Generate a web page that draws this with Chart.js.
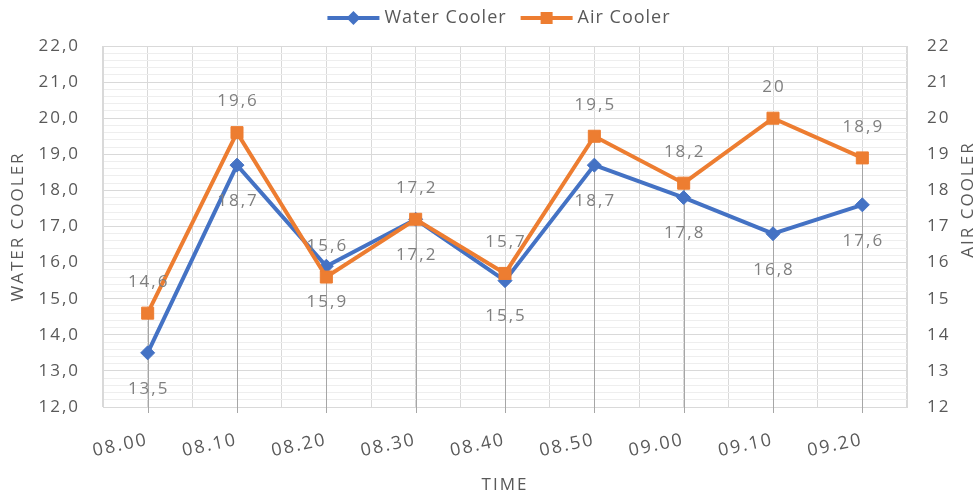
<!DOCTYPE html>
<html>
<head>
<meta charset="utf-8">
<script src="https://cdn.jsdelivr.net/npm/chart.js@4.4.1/dist/chart.umd.min.js"></script>
<style>
  html, body { margin: 0; padding: 0; background: #ffffff; }
  #wrap { width: 980px; height: 497px; }
</style>
</head>
<body>
<div id="wrap"><canvas id="chartjs-0" width="980" height="497"></canvas></div>
<script>
// data
var times = ["08.00", "08.10", "08.20", "08.30", "08.40", "08.50", "09.00", "09.10", "09.20"];
var waterCooler = [13.5, 18.7, 15.9, 17.2, 15.5, 18.7, 17.8, 16.8, 17.6];
var airCooler = [14.6, 19.6, 15.6, 17.2, 15.7, 19.5, 18.2, 20, 18.9];
var axisMin = 12;
var axisMax = 22;

var BLUE = "#4472C4";
var ORANGE = "#ED7D31";
var TEXT = "#595959";
var FONT = "'Open Sans', 'Liberation Sans', sans-serif";

function isWhole(v) {
    return Math.abs(v - Math.round(v)) < 1e-6;
}

// letter spaced text for the axes, like the picture
var spacing = {
    id: "spacing",
    beforeDraw: function(chart) { chart.ctx.letterSpacing = "2px"; },
    beforeDatasetsDraw: function(chart) { chart.ctx.letterSpacing = "0px"; }
};

// vertical lines from the highest point of each category down to the axis
var dropLines = {
    id: "dropLines",
    beforeDatasetsDraw: function(chart) {
        var ctx = chart.ctx;
        var x = chart.scales.x;
        var y = chart.scales.y;
        ctx.save();
        ctx.strokeStyle = "#a6a6a6";
        ctx.lineWidth = 1;
        for (var i = 0; i < times.length; i++) {
            var top = Math.max(waterCooler[i], airCooler[i]);
            var px = Math.round(x.getPixelForValue(i)) + 0.5;
            ctx.beginPath();
            ctx.moveTo(px, y.getPixelForValue(top));
            ctx.lineTo(px, chart.chartArea.bottom + 6);
            ctx.stroke();
        }
        ctx.restore();
    }
};

// value labels: air cooler above, water cooler below
var valueLabels = {
    id: "valueLabels",
    afterDatasetsDraw: function(chart) {
        var ctx = chart.ctx;
        ctx.save();
        ctx.font = "17px " + FONT;
        ctx.letterSpacing = "2px";
        ctx.fillStyle = "#7f7f7f";
        ctx.textAlign = "center";
        ctx.textBaseline = "middle";
        chart.data.datasets.forEach(function(ds, di) {
            var meta = chart.getDatasetMeta(di);
            var shift = di === 0 ? 36 : -31;
            meta.data.forEach(function(pt, i) {
                var txt = String(ds.data[i]).replace(".", ",");
                ctx.fillText(txt, pt.x + 1, pt.y + shift);
            });
        });
        ctx.restore();
    }
};

// legend: a line with its marker, then the name
var lineLegend = {
    id: "lineLegend",
    afterDraw: function(chart) {
        var ctx = chart.ctx;
        var sets = chart.data.datasets;
        ctx.save();
        ctx.font = "18px " + FONT;
        ctx.letterSpacing = "1px";
        ctx.textBaseline = "middle";
        var iconW = 52, gap = 5, between = 14;
        var total = 0;
        sets.forEach(function(ds, i) {
            total += iconW + gap + ctx.measureText(ds.label).width + (i ? between : 0);
        });
        var x = 499 - total / 2;
        var y = 18;
        sets.forEach(function(ds) {
            ctx.strokeStyle = ds.borderColor;
            ctx.lineWidth = 4;
            ctx.beginPath();
            ctx.moveTo(x, y);
            ctx.lineTo(x + iconW, y);
            ctx.stroke();
            ctx.fillStyle = ds.borderColor;
            var cx = x + iconW / 2;
            if (ds.pointStyle === "rect") {
                ctx.fillRect(cx - 6, y - 6, 12, 12);
            } else {
                ctx.beginPath();
                ctx.moveTo(cx, y - 7);
                ctx.lineTo(cx + 7, y);
                ctx.lineTo(cx, y + 7);
                ctx.lineTo(cx - 7, y);
                ctx.closePath();
                ctx.fill();
            }
            x += iconW + gap;
            ctx.fillStyle = TEXT;
            ctx.textAlign = "left";
            ctx.fillText(ds.label, x, y);
            x += ctx.measureText(ds.label).width + between;
        });
        ctx.restore();
    }
};

// right axis title reads bottom to top like the left one
var rightTitle = {
    id: "rightTitle",
    afterDraw: function(chart) {
        var ctx = chart.ctx;
        var area = chart.chartArea;
        ctx.save();
        ctx.translate(968, (area.top + area.bottom) / 2 - 27);
        ctx.rotate(-Math.PI / 2);
        ctx.font = "17px " + FONT;
        ctx.letterSpacing = "2px";
        ctx.fillStyle = TEXT;
        ctx.textAlign = "center";
        ctx.textBaseline = "middle";
        ctx.fillText("AIR COOLER", 0, 0);
        ctx.restore();
    }
};

var ctx0 = document.getElementById("chartjs-0");
var myChart = new Chart(ctx0, {
    type: "line",
    data: {
        labels: times,
        datasets: [{
            label: "Water Cooler",
            data: waterCooler,
            yAxisID: "y",
            borderColor: BLUE,
            backgroundColor: BLUE,
            borderWidth: 4,
            pointStyle: "rectRot",
            pointRadius: 7,
            pointBorderWidth: 1,
            tension: 0,
            order: 1
        }, {
            label: "Air Cooler",
            data: airCooler,
            yAxisID: "y1",
            borderColor: ORANGE,
            backgroundColor: ORANGE,
            borderWidth: 4,
            pointStyle: "rect",
            pointRadius: 8.5,
            pointBorderWidth: 1,
            tension: 0,
            order: 0
        }]
    },
    options: {
        responsive: false,
        animation: false,
        layout: { padding: { top: 46, left: 0, right: 0, bottom: 0 } },
        plugins: {
            tooltip: { enabled: false },
            legend: { display: false }
        },
        scales: {
            x: {
                type: "category",
                offset: true,
                grid: { offset: false, color: "#d9d9d9", drawTicks: false },
                border: { color: "#d9d9d9" },
                ticks: {
                    color: TEXT,
                    font: { family: FONT, size: 18 },
                    minRotation: 12,
                    maxRotation: 12,
                    padding: 22
                },
                title: {
                    display: true,
                    text: "TIME",
                    color: TEXT,
                    font: { family: FONT, size: 17 },
                    padding: { top: 0, bottom: 2 }
                },
                afterFit: function(s) { s.height = 90; }
            },
            xb: {
                type: "category",
                offset: true,
                position: "bottom",
                grid: { offset: true, color: "#d9d9d9", drawTicks: false },
                border: { display: false },
                ticks: { display: false },
                afterFit: function(s) { s.height = 0; }
            },
            y: {
                position: "left",
                min: axisMin,
                max: axisMax,
                grid: {
                    drawTicks: false,
                    color: function(c) {
                        return isWhole(c.tick.value) ? "#d9d9d9" : "#eeeeee";
                    }
                },
                border: { color: "#d9d9d9" },
                ticks: {
                    stepSize: 0.2,
                    autoSkip: false,
                    color: TEXT,
                    padding: 23,
                    font: { family: FONT, size: 17 },
                    callback: function(v) {
                        return isWhole(v) ? Math.round(v).toFixed(1).replace(".", ",") : "";
                    }
                },
                title: {
                    display: true,
                    text: "WATER COOLER",
                    color: TEXT,
                    font: { family: FONT, size: 17 },
                    padding: { top: 8, bottom: 0 }
                },
                afterFit: function(s) { s.width = 103; }
            },
            y1: {
                position: "right",
                min: axisMin,
                max: axisMax,
                grid: { drawOnChartArea: false, drawTicks: false },
                border: { color: "#d9d9d9" },
                ticks: {
                    stepSize: 1,
                    color: TEXT,
                    padding: 20,
                    font: { family: FONT, size: 17 }
                },
                afterFit: function(s) { s.width = 73; }
            }
        }
    },
    plugins: [spacing, dropLines, valueLabels, lineLegend, rightTitle]
});
</script>
</body>
</html>
